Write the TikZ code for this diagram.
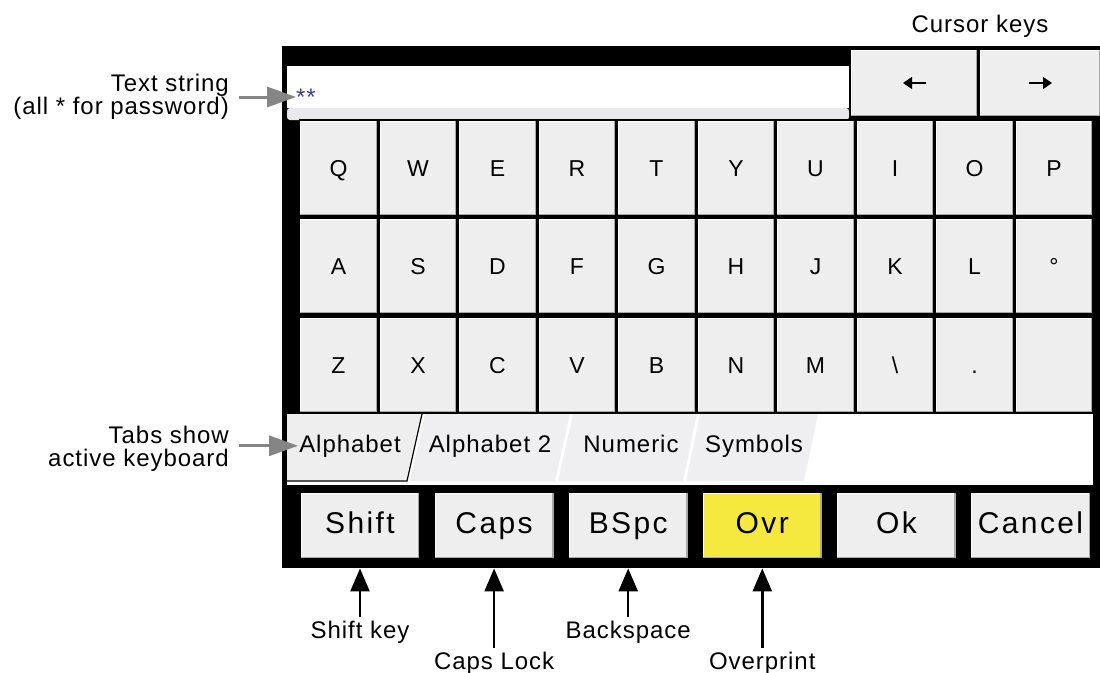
\documentclass[tikz,border=0pt]{standalone}
\usepackage{fontspec}
\setmainfont{Liberation Sans}[LetterSpace=4]
\newfontfamily\btnfamily{Liberation Sans}[LetterSpace=8]
\usepackage{tikz}
\usetikzlibrary{arrows.meta}
\usetikzlibrary{positioning}
\definecolor{keygray}{HTML}{EEEEEE}
\definecolor{keyshade}{HTML}{A8A8A8}
\definecolor{tabgray}{HTML}{EFEFF1}
\definecolor{stripgray}{HTML}{E9E9EB}
\definecolor{ovryellow}{HTML}{F5E83F}
\definecolor{notegray}{HTML}{858585}
\definecolor{starblue}{HTML}{3C3C99}

\begin{document}
\begin{tikzpicture}[x=1pt,y=-1pt,
                bevel/.style={path picture={
                    \draw[white, line width=3pt] (path picture bounding box.south west)
                        -- (path picture bounding box.north west) -- (path picture bounding box.north east);
                    \draw[keyshade, line width=4pt] (path picture bounding box.south west)
                        -- (path picture bounding box.south east) -- (path picture bounding box.north east);}},
                key/.style={rectangle, draw=black, line width=1.2pt, fill=keygray, bevel,
                    inner sep=0pt, minimum width=78pt, minimum height=96pt,
                    text height=16.5pt, text depth=0.5pt, font=\fontsize{23}{23}\selectfont},
                btn/.style={key, minimum width=120pt, minimum height=67pt,
                    text height=21.5pt, text depth=6.5pt, font=\btnfamily\fontsize{30}{30}\selectfont},
                note/.style={inner xsep=10pt, inner ysep=0pt, font=\fontsize{24}{23.5}\selectfont},
                tabtxt/.style={inner sep=1pt, anchor=base, font=\fontsize{24}{24}\selectfont},
                garrow/.style={draw=notegray, line width=3pt, -{Triangle[length=29pt,width=20pt]}},
                karrow/.style={draw=black, line width=2.5pt, -{Triangle[length=23pt,width=19pt]}},
                curarrow/.style={draw=black, line width=1.2pt, -{Triangle[length=9pt,width=12pt]}}]
    \useasboundingbox (0,0) rectangle (1100,672);

    % screen frame
    \node[fill=black, anchor=north west, inner sep=0pt, minimum width=818pt, minimum height=522pt] (frame) at (282,46) {};
    \fill[white] (287,66) rectangle (849,108);
    \fill[stripgray, rounded corners=3pt] (287,108) -- (287,120) -- (849,120) -- (849,108) -- cycle;
    \node[anchor=west, inner sep=0pt, text=starblue, font=\fontsize{24}{24}\selectfont] (stars) at (296,97) {**};

    % cursor keys
    \node[key, minimum width=127pt, minimum height=68pt] (curleft) at (914,83) {};
    \node[key, minimum width=121pt, minimum height=68pt] (curright) at (1040,83) {};
    \draw[curarrow] ([xshift=12pt]curleft.center) -- ([xshift=-11pt]curleft.center);
    \draw[curarrow] ([xshift=-11pt]curright.center) -- ([xshift=12pt]curright.center);

    % keyboard
    \foreach \k [count=\i from 0] in {Q,W,E,R,T,Y,U,I,O,P}
        \node[key] (ka\i) at ({338.5+79.5*\i},168) {\k};
    \foreach \k [count=\i from 0] in {A,S,D,F,G,H,J,K,L,°}
        \node[key] (kb\i) at ({338.5+79.5*\i},266) {\k};
    \foreach \k [count=\i from 0] in {Z,X,C,V,B,N,M,\textbackslash,{.},{}}
        \node[key] (kc\i) at ({338.5+79.5*\i},365) {\k};

    % tabs
    \fill[white] (287,414) rectangle (1093,485);
    \fill[keygray] (287,414) -- (422,414) -- (407,481) -- (287,481) -- cycle;
    \draw[black, line width=1.2pt] (422,414) -- (407,481) -- (287,481);
    \fill[tabgray] (425,414) -- (570,414) -- (555,481) -- (410,481) -- cycle;
    \fill[tabgray] (573,414) -- (697,414) -- (683,481) -- (558,481) -- cycle;
    \fill[tabgray] (700,414) -- (818,414) -- (804,481) -- (686,481) -- cycle;
    \node[tabtxt] (tab1) at (350,452) {Alphabet};
    \node[tabtxt] (tab2) at (490,452) {Alphabet 2};
    \node[tabtxt] (tab3) at (631,452) {Numeric};
    \node[tabtxt] (tab4) at (754,452) {Symbols};

    % function buttons
    \foreach \nm/\lb/\fc [count=\i from 0] in {shift/Shift/keygray, caps/Caps/keygray, bspc/BSpc/keygray,
                                               ovr/Ovr/ovryellow, ok/Ok/keygray, cancel/Cancel/keygray}
        \node[btn, fill=\fc] (\nm) at ({360+134.1*\i},525.5) {\lb};

    % annotations
    \node[note, align=right, anchor=east] (txtlbl) at (239,97) {Text string\\(all * for password)};
    \node[note, align=right, anchor=east] (tablbl) at (239,449) {Tabs show\\active keyboard};
    \node[note, anchor=base] (curlbl) at (980,32) {Cursor keys};
    \draw[garrow] (txtlbl.east |- stars.west) -- (stars.west);
    \draw[garrow] (tablbl.east |- tab1.west) -- (tab1.west);

    \node[note, inner xsep=0pt, inner ysep=3pt, anchor=base] (shiftlbl) at (shift |- 0,638) {Shift key};
    \node[note, inner xsep=0pt, inner ysep=3pt, anchor=base] (capslbl) at (caps |- 0,669) {Caps Lock};
    \node[note, inner xsep=0pt, inner ysep=3pt, anchor=base] (bspclbl) at (bspc |- 0,638) {Backspace};
    \node[note, inner xsep=0pt, inner ysep=3pt, anchor=base] (ovrlbl) at (ovr |- 0,669) {Overprint};
    \foreach \nm in {shift,caps,bspc,ovr}
        \draw[karrow] (\nm lbl) -- (\nm lbl |- frame.south);
\end{tikzpicture}
\end{document}
